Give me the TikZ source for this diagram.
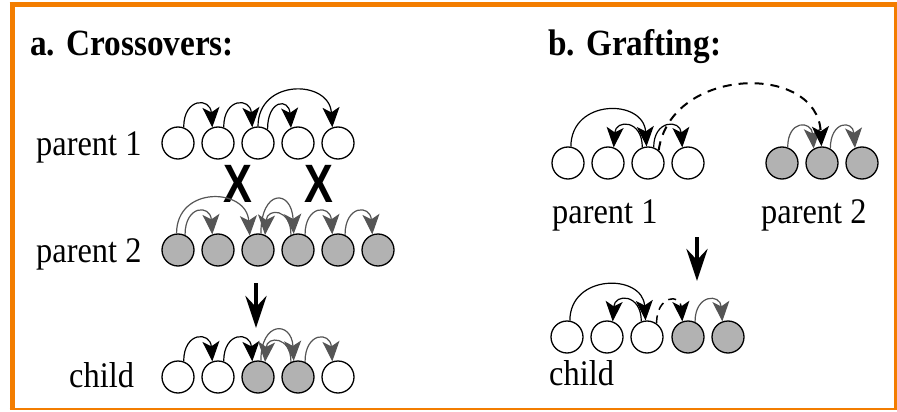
\documentclass[tikz,border=0pt]{standalone}
\usepackage{fontspec}
\setmainfont{Liberation Serif}
\newfontfamily\lblfont{Liberation Serif}[FakeStretch=0.9]
\newfontfamily\ttlfont{Liberation Serif}[FakeStretch=0.9]
\newfontfamily\xfont{Liberation Sans}[FakeStretch=0.8]
\usetikzlibrary{arrows.meta}
\definecolor{frameorange}{RGB}{243,125,0}
\definecolor{cellgray}{RGB}{178,178,178}
\definecolor{linkgray}{RGB}{85,85,85}
\begin{document}
\begin{tikzpicture}[x=1pt,y=-1pt,
 cell/.style={circle,draw=black,line width=1.3pt,minimum size=32pt,inner sep=0pt,fill=white},
 gcell/.style={cell,fill=cellgray},
 tipstyle/.style={-{Stealth[length=20pt 0,width=17pt 0,inset=5pt 0]}},
 blink/.style={draw=black,line width=1.2pt,tipstyle},
 glink/.style={draw=linkgray,line width=1.2pt,tipstyle},
 dlink/.style={blink,line width=2pt,dash pattern=on 9pt off 7pt},
 bigarrow/.style={draw=black,line width=4.5pt,-{Stealth[length=32pt 0,width=21pt 0,inset=11pt 0]}},
 lbl/.style={anchor=base west,inner sep=0pt,font=\lblfont\fontsize{36}{36}\selectfont},
 ttl/.style={anchor=base west,inner sep=0pt,font=\ttlfont\bfseries\fontsize{37}{37}\selectfont},
 xmark/.style={inner sep=0pt,font=\xfont\bfseries\fontsize{54}{54}\selectfont},
]
\useasboundingbox (0,0) rectangle (897,412);
% frame
\draw[frameorange,line width=5pt] (9.5,5) -- (896,5);
\draw[frameorange,line width=5pt] (12,2.5) -- (12,409);
\draw[frameorange,line width=3pt] (895,2.5) -- (895,409);
\draw[frameorange,line width=2.5pt] (9.5,409) -- (896.5,409);

% titles
\node[ttl] (ta) at (30,56) {a. Crossovers:};
\node[ttl] (tb) at (548,56) {b. Grafting:};

% labels
\node[lbl] (la1) at (36,155) {parent 1};
\node[lbl] (la2) at (36,262) {parent 2};
\node[lbl] (lac) at (69,387) {child};
\node[lbl] (lb1) at (552,223) {parent 1};
\node[lbl] (lb2) at (761,223) {parent 2};
\node[lbl] (lbc) at (549,385) {child};

% crossover parent 1
\node[cell] (a1) at (178,143) {};
\node[cell] (a2) at (218,143) {};
\node[cell] (a3) at (258,143) {};
\node[cell] (a4) at (298,143) {};
\node[cell] (a5) at (338,143) {};
% crossover parent 2
\node[gcell] (b1) at (178,250) {};
\node[gcell] (b2) at (218,250) {};
\node[gcell] (b3) at (258,250) {};
\node[gcell] (b4) at (298,250) {};
\node[gcell] (b5) at (338,250) {};
\node[gcell] (b6) at (378,250) {};
% crossover child
\node[cell] (c1) at (178,377) {};
\node[cell] (c2) at (218,377) {};
\node[gcell] (c3) at (258,377) {};
\node[gcell] (c4) at (298,377) {};
\node[cell] (c5) at (338,377) {};
% grafting parent 1
\node[cell] (d1) at (568,163) {};
\node[cell] (d2) at (608,163) {};
\node[cell] (d3) at (648,163) {};
\node[cell] (d4) at (688,163) {};
% grafting parent 2
\node[gcell] (e1) at (782,163) {};
\node[gcell] (e2) at (822,163) {};
\node[gcell] (e3) at (862,163) {};
% grafting child
\node[cell] (f1) at (567,337) {};
\node[cell] (f2) at (607,337) {};
\node[cell] (f3) at (647,337) {};
\node[gcell] (f4) at (688,337) {};
\node[gcell] (f5) at (728,337) {};

% X marks
\node[xmark] (x1) at (238,184) {X};
\node[xmark] (x2) at (319,184) {X};

% crossover parent 1 links
\draw[blink] (a1.70) .. controls +(0,-30) and +(-2,-30) .. (a2.110);
\draw[blink] (a2.70) .. controls +(0,-30) and +(-2,-30) .. (a3.110);
\draw[blink] (a3.55) .. controls +(0,-30) and +(-2,-30) .. (a4.115);
\draw[blink] (a3.90) .. controls +(0,-48) and +(-3,-48) .. (a5.110);
% crossover parent 2 links
\draw[glink] (b1.95) .. controls +(0,-48) and +(-3,-48) .. (b3.120);
\draw[glink] (b1.65) .. controls +(0,-30) and +(-2,-30) .. (b2.110);
\draw[glink] (b3.80) .. controls +(0,-45) and +(-2,-45) .. (b4.105);
\draw[glink] (b4.115) .. controls +(0,-27) and +(2,-27) .. (b3.65);
\draw[glink] (b4.65) .. controls +(0,-30) and +(-2,-30) .. (b5.110);
\draw[glink] (b5.65) .. controls +(0,-30) and +(-2,-30) .. (b6.110);
% crossover child links
\draw[blink] (c1.70) .. controls +(0,-30) and +(-2,-30) .. (c2.110);
\draw[blink] (c2.70) .. controls +(0,-30) and +(-2,-30) .. (c3.110);
\draw[glink] (c3.80) .. controls +(0,-40) and +(-2,-40) .. (c4.105);
\draw[glink] (c4.115) .. controls +(0,-26) and +(2,-26) .. (c3.65);
\draw[glink] (c4.65) .. controls +(0,-30) and +(-2,-30) .. (c5.110);

% grafting parent 1 links
\draw[blink] (d1.80) .. controls +(0,-48) and +(-3,-48) .. (d3.95);
\draw[blink] (d3.110) .. controls +(0,-28) and +(2,-28) .. (d2.70);
\draw[blink] (d3.70) .. controls +(0,-28) and +(-2,-28) .. (d4.110);
% grafting parent 2 links
\draw[glink] (e1.70) .. controls +(0,-28) and +(-2,-28) .. (e2.120);
\draw[glink] (e2.60) .. controls +(0,-28) and +(-2,-28) .. (e3.115);
% dashed graft link
\draw[dlink] (d3.50) .. controls +(12,-84) and +(-4,-84) .. (e2.92);
% grafting child links
\draw[blink] (f1.80) .. controls +(0,-47) and +(-3,-47) .. (f3.95);
\draw[blink] (f3.110) .. controls +(0,-28) and +(2,-28) .. (f2.70);
\draw[blink,line width=1.5pt,dash pattern=on 8pt off 6pt] (f3.55) .. controls +(0,-28) and +(-2,-28) .. (f4.110);
\draw[glink] (f4.65) .. controls +(0,-28) and +(-2,-28) .. (f5.110);

% big arrows
\coordinate (aa1) at (256,283);
\coordinate (aa2) at (256,328);
\draw[bigarrow] (aa1) -- (aa2);
\coordinate (ba1) at (697,237);
\coordinate (ba2) at (697,281);
\draw[bigarrow] (ba1) -- (ba2);
\end{tikzpicture}
\end{document}
